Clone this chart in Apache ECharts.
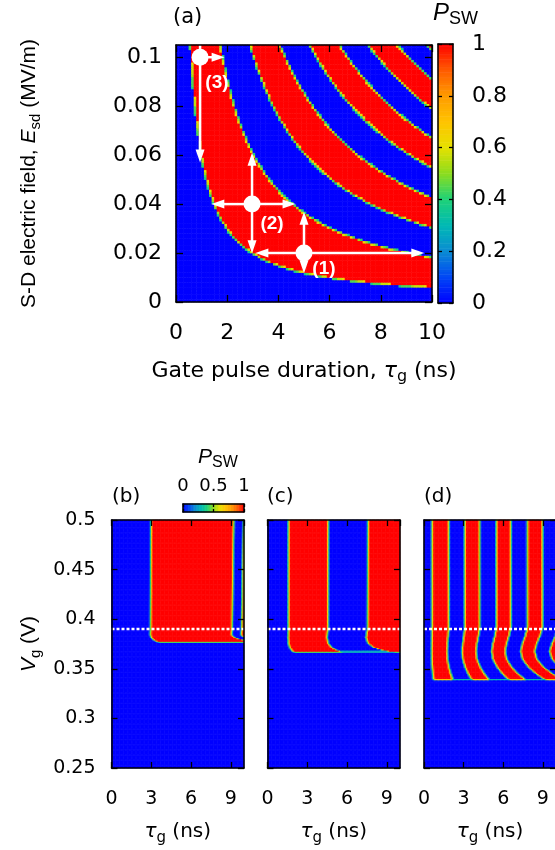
<!DOCTYPE html>
<html lang="en">
<head>
<meta charset="UTF-8">
<title>P_SW maps</title>
<script src="https://cdn.jsdelivr.net/npm/echarts@6/dist/echarts.min.js"></script>
<style>
  html, body { margin: 0; padding: 0; overflow: hidden; background: #fff; }
  #main { width: 556px; height: 850px; }
</style>
</head>
<body>
<div id="main"></div>
<script>
// ---- data ----
// (a) edges of the switching bands, as products E_sd * tau_g (MV/m * ns)
var edgesA = [0.06, 0.183, 0.305, 0.428, 0.55, 0.672, 0.79, 0.91, 1.03, 1.15];
var tauRangeA = [0, 10];
var esdRangeA = [0, 0.105];

// (b)-(d) red stripe edges in tau_g (ns) well above threshold (pairs: start, end)
var edgesB = [3.0, 9.25, 9.98, 12];
var edgesC = [1.6, 4.6, 7.6, 10.6];
var edgesD = [0.63, 1.89, 3.1, 4.24, 5.5, 6.6, 7.85, 9.0, 10.2, 11.4];
// gate voltage below which nothing switches
var vthB = 0.377, vthC = 0.367, vthD = 0.339;
// relative rotation rate vs Vg (stripe edge appears at edge / rate)
var rateVB = [0.377, 0.379, 0.381, 0.384, 0.39, 0.5];
var rateB  = [0.85, 0.92, 0.98, 1.02, 1.014, 1.0];
var rateVC = [0.367, 0.369, 0.372, 0.376, 0.382, 0.39, 0.5];
var rateC  = [0.80, 0.87, 0.95, 1.0, 1.02, 1.005, 1.0];
var rateVD = [0.339, 0.345, 0.352, 0.36, 0.368, 0.376, 0.384, 0.392, 0.5];
var rateD  = [0.85, 0.92, 0.99, 1.05, 1.07, 1.05, 1.02, 1.0, 1.0];
// faint P_SW level of the thin line running along the threshold (right of the first stripe)
var floorB = 0, floorC = 0.25, floorD = 0.3;
var dashV = 0.39;

// (a) operating points and the arrows drawn from them
var pointsA = [[5.0, 0.02], [2.97, 0.04], [0.94, 0.1]];
var arrowsA = [
  [5.0, 0.02, 3.1, 0.02], [5.0, 0.02, 9.7, 0.02], [5.0, 0.02, 5.0, 0.0369], [5.0, 0.02, 5.0, 0.0117],
  [2.97, 0.04, 1.38, 0.04], [2.97, 0.04, 4.67, 0.04], [2.97, 0.04, 2.97, 0.061], [2.97, 0.04, 2.97, 0.0199],
  [0.94, 0.105, 0.94, 0.057], [0.94, 0.1, 1.9, 0.1]
];
var labelsA = [[5.78, 0.0137, '(1)'], [3.75, 0.032, '(2)'], [1.6, 0.0897, '(3)']];

var cmap = ['#0000ff', '#0046f5', '#0a8cd2', '#00b9b4', '#1ed278', '#8cdc1e',
            '#e6e100', '#ffc300', '#ff9b00', '#ff5a00', '#ff0000'];

var FONT = "'DejaVu Sans', 'Liberation Sans', sans-serif";   // horizontal text
var FONTV = "'Liberation Sans', Arial, sans-serif";           // rotated axis name

// ---- helpers ----
function clamp01(x) { return x < 0 ? 0 : (x > 1 ? 1 : x); }
function interp(x, xs, ys) {
  if (x <= xs[0]) return ys[0];
  for (var k = 0; k < xs.length - 1; k++) {
    if (x <= xs[k + 1]) return ys[k] + (ys[k + 1] - ys[k]) * (x - xs[k]) / (xs[k + 1] - xs[k]);
  }
  return ys[ys.length - 1];
}
function inBands(p, edges) {
  for (var k = 0; k + 1 < edges.length; k += 2) if (p >= edges[k] && p < edges[k + 1]) return 1;
  return 0;
}
function soft(p, edges, w) {
  var s = 0;
  for (var k = 0; k + 1 < edges.length; k += 2) {
    s += clamp01((p - edges[k]) / (2 * w) + 0.5) * clamp01((edges[k + 1] - p) / (2 * w) + 0.5);
  }
  return Math.min(1, s);
}
function range(n) { var a = []; for (var i = 0; i < n; i++) a.push(i); return a; }

// ---- cell tables ----
var nTauA = 100, nEA = 105;
var heatA = [];
for (var j = 0; j < nEA; j++) {
  for (var i = 0; i < nTauA; i++) {
    var c = 0;
    for (var s = 0; s < 3; s++) for (var t = 0; t < 3; t++) {
      var tau = (i + (s + 0.5) / 3) * (tauRangeA[1] - tauRangeA[0]) / nTauA;
      var e = (j + (t + 0.5) / 3) * (esdRangeA[1] - esdRangeA[0]) / nEA;
      c += inBands(tau * e, edgesA);
    }
    var f = c / 9;
    heatA.push([i, j, (f > 0 && f < 1) ? 0.32 + 0.36 * f : f]);
  }
}

var nTau = 100, nV = 200;
function bottomData(edges, vth, rV, rR, floor) {
  var out = [];
  for (var j = 0; j < nV; j++) {
    var v = 0.25 + (j + 0.5) * 0.25 / nV;
    var gate = clamp01((v - vth) / 0.002 + 0.5);
    var r = interp(v, rV, rR);
    var onLine = (v - vth) > -0.0004 && (v - vth) < 0.0012;
    for (var i = 0; i < nTau; i++) {
      var tau = (i + 0.5) * 10 / nTau;
      var p = gate > 0 ? soft(tau * r, edges, 0.13) * gate : 0;
      if (onLine && tau * r > edges[0] && p < floor) p = floor;
      out.push([i, j, Math.round(p * 1000) / 1000]);
    }
  }
  return out;
}
var heatB = bottomData(edgesB, vthB, rateVB, rateB, floorB);
var heatC = bottomData(edgesC, vthC, rateVC, rateC, floorC);
var heatD = bottomData(edgesD, vthD, rateVD, rateD, floorD);

var barCells = 100;
var barA = [], barS = [];
for (var k = 0; k < barCells; k++) {
  barA.push([0, k, (k + 0.5) / barCells]);
  barS.push([k, 0, (k + 0.5) / barCells]);
}

// ---- option building ----
var grids = [], xAxes = [], yAxes = [], series = [], heatIdx = [];
function addGrid(r) { grids.push({left: r.left, top: r.top, width: r.width, height: r.height}); return grids.length - 1; }
function addX(a) { xAxes.push(a); return xAxes.length - 1; }
function addY(a) { yAxes.push(a); return yAxes.length - 1; }

function richStyle(font, fs, sub) {
  return {
    n: {fontFamily: font, fontSize: fs, lineHeight: 28, verticalAlign: 'middle', color: '#000'},
    i: {fontFamily: font, fontSize: fs, fontStyle: 'italic', lineHeight: 28, verticalAlign: 'middle', color: '#000'},
    s: {fontFamily: font, fontSize: sub, lineHeight: sub, verticalAlign: 'bottom', color: '#000'}
  };
}

function heatGrid(rect, nx, ny, data) {
  var g = addGrid(rect);
  var xi = addX({type: 'category', gridIndex: g, data: range(nx), show: false});
  var yi = addY({type: 'category', gridIndex: g, data: range(ny), show: false});
  series.push({type: 'heatmap', xAxisIndex: xi, yAxisIndex: yi, data: data,
    progressive: 0, silent: true, animation: false, emphasis: {disabled: true}});
  heatIdx.push(series.length - 1);
}

function valAxis(g, pos, min, max, step, o) {
  var isX = pos === 'bottom' || pos === 'top';
  var a = {
    type: 'value', gridIndex: g, position: pos, min: min, max: max, interval: step, z: 5,
    axisLine: {show: true, onZero: false, lineStyle: {color: '#000', width: 1.5}},
    axisTick: {show: o.tick > 0, inside: true, length: o.tick, lineStyle: {color: '#000', width: 1.3}},
    axisLabel: {show: !!o.label, margin: o.margin || 10, fontSize: o.fs || 20, fontFamily: FONT, color: '#000',
      showMaxLabel: o.showMax !== false},
    splitLine: {show: false}
  };
  if (o.name) {
    a.name = o.name; a.nameLocation = 'middle'; a.nameGap = o.nameGap;
    a.nameTextStyle = {rich: richStyle(o.nameFont || FONT, o.nameFs || 20, o.subFs || 15)};
  }
  return isX ? addX(a) : addY(a);
}

function frame(rect, xr, yr, ox, oy) {
  var g = addGrid(rect);
  var xb = valAxis(g, 'bottom', xr[0], xr[1], xr[2], ox);
  valAxis(g, 'top', xr[0], xr[1], xr[2], {tick: ox.tick});
  var yl = valAxis(g, 'left', yr[0], yr[1], yr[2], oy);
  valAxis(g, 'right', yr[0], yr[1], yr[2], {tick: oy.tick, label: oy.rightLabel, margin: oy.rmargin, fs: oy.fs});
  return {x: xb, y: yl};
}

// panel (a)
var RA = {left: 176, top: 45, width: 256, height: 257};
heatGrid(RA, nTauA, nEA, heatA);
var fa = frame(RA, [0, 10, 2], [0, 0.105, 0.02],
  {tick: 7, label: true, margin: 20, fs: 22,
   name: '{n|Gate pulse duration, }{i|τ}{s|g}{n| (ns)}', nameGap: 55, nameFs: 22, subFs: 16},
  {tick: 7, label: true, margin: 14, fs: 22, showMax: false,
   name: '{n|S-D electric field, }{i|E}{s|sd}{n| (MV/m)}', nameGap: 133, nameFont: FONTV, nameFs: 21, subFs: 15});

series.push({type: 'custom', xAxisIndex: fa.x, yAxisIndex: fa.y, data: arrowsA, z: 3,
  encode: {x: [0, 2], y: [1, 3]}, animation: false, silent: true,
  renderItem: function (params, api) {
    var p1 = api.coord([api.value(0), api.value(1)]);
    var p2 = api.coord([api.value(2), api.value(3)]);
    var dx = p2[0] - p1[0], dy = p2[1] - p1[1];
    var L = Math.sqrt(dx * dx + dy * dy), ux = dx / L, uy = dy / L;
    var hl = 13, hw = 4.5;
    var bx = p2[0] - ux * hl, by = p2[1] - uy * hl;
    return {type: 'group', children: [
      {type: 'line', shape: {x1: p1[0], y1: p1[1], x2: bx + ux * 2, y2: by + uy * 2},
        style: {stroke: '#fff', lineWidth: 2.5}},
      {type: 'polygon', shape: {points: [[p2[0], p2[1]], [bx - uy * hw, by + ux * hw], [bx + uy * hw, by - ux * hw]]},
        style: {fill: '#fff'}}
    ]};
  }});
series.push({type: 'scatter', xAxisIndex: fa.x, yAxisIndex: fa.y, data: pointsA, z: 4,
  symbol: 'circle', symbolSize: 17, itemStyle: {color: '#fff', opacity: 1}, silent: true, animation: false});
series.push({type: 'scatter', xAxisIndex: fa.x, yAxisIndex: fa.y, z: 4, silent: true, animation: false,
  data: labelsA.map(function (d) { return {value: [d[0], d[1]], name: d[2]}; }),
  symbol: 'circle', symbolSize: 1, itemStyle: {color: 'rgba(0,0,0,0)', opacity: 1},
  label: {show: true, position: 'inside', formatter: '{b}', color: '#fff', opacity: 1, fontWeight: 'bold',
    fontSize: 19, fontFamily: FONTV}});

// colorbar (a)
var RCB = {left: 438, top: 44, width: 15, height: 259};
heatGrid(RCB, 1, barCells, barA);
frame(RCB, [0, 1, 1], [0, 1, 0.2], {tick: 0}, {tick: 4, rightLabel: true, rmargin: 19, fs: 22});

// panels (b)-(d)
var panels = [
  {left: 111.5, data: heatB, ylab: true},
  {left: 267.5, data: heatC, ylab: false},
  {left: 424, data: heatD, ylab: false}
];
panels.forEach(function (p) {
  var R = {left: p.left, top: 520, width: 132.5, height: 248};
  heatGrid(R, nTau, nV, p.data);
  var f = frame(R, [0, 10, 3], [0.25, 0.5, 0.05],
    {tick: 6, label: true, margin: 22, fs: 19, showMax: false,
     name: '{i|τ}{s|g}{n| (ns)}', nameGap: 50, nameFs: 20, subFs: 15},
    p.ylab ? {tick: 6, label: true, margin: 16, fs: 19,
      name: '{i|V}{s|g}{n| (V)}', nameGap: 68, nameFont: FONTV, nameFs: 21, subFs: 15} : {tick: 6});
  series.push({type: 'line', xAxisIndex: f.x, yAxisIndex: f.y, data: [[0, dashV], [10, dashV]],
    symbol: 'none', z: 4, silent: true, animation: false,
    lineStyle: {color: '#fff', width: 2.5, type: [3, 2]}});
});

// small colorbar above (b)
var RS = {left: 183, top: 504, width: 61, height: 8};
heatGrid(RS, barCells, 1, barS);
(function () {
  var g = addGrid(RS);
  valAxis(g, 'top', 0, 1, 0.5, {tick: 3, label: true, margin: 9, fs: 18});
  valAxis(g, 'bottom', 0, 1, 0.5, {tick: 3});
  valAxis(g, 'left', 0, 1, 1, {tick: 0});
  valAxis(g, 'right', 0, 1, 1, {tick: 0});
})();

var pswRich = function (fs, sub) {
  return {
    i: {fontFamily: FONTV, fontSize: fs, fontStyle: 'italic', lineHeight: fs + 6, verticalAlign: 'middle', fill: '#000'},
    s: {fontFamily: FONTV, fontSize: sub, lineHeight: sub, verticalAlign: 'bottom', fill: '#000'}
  };
};

var option = {
  animation: false,
  grid: grids,
  xAxis: xAxes,
  yAxis: yAxes,
  visualMap: {show: false, type: 'continuous', min: 0, max: 1, dimension: 2,
    seriesIndex: heatIdx, inRange: {color: cmap}},
  graphic: [
    {type: 'text', left: 173, top: 7, style: {text: '(a)', fontSize: 21, fontFamily: FONT, fill: '#000'}},
    {type: 'text', left: 433, top: 1, style: {text: '{i|P}{s|SW}', rich: pswRich(24, 18)}},
    {type: 'text', left: 112, top: 487, style: {text: '(b)', fontSize: 20, fontFamily: FONT, fill: '#000'}},
    {type: 'text', left: 267, top: 487, style: {text: '(c)', fontSize: 20, fontFamily: FONT, fill: '#000'}},
    {type: 'text', left: 424, top: 487, style: {text: '(d)', fontSize: 20, fontFamily: FONT, fill: '#000'}},
    {type: 'text', left: 198, top: 447, style: {text: '{i|P}{s|SW}', rich: pswRich(21, 16)}}
  ],
  series: series
};

var chart = echarts.init(document.getElementById('main'));
chart.setOption(option);
</script>
</body>
</html>
